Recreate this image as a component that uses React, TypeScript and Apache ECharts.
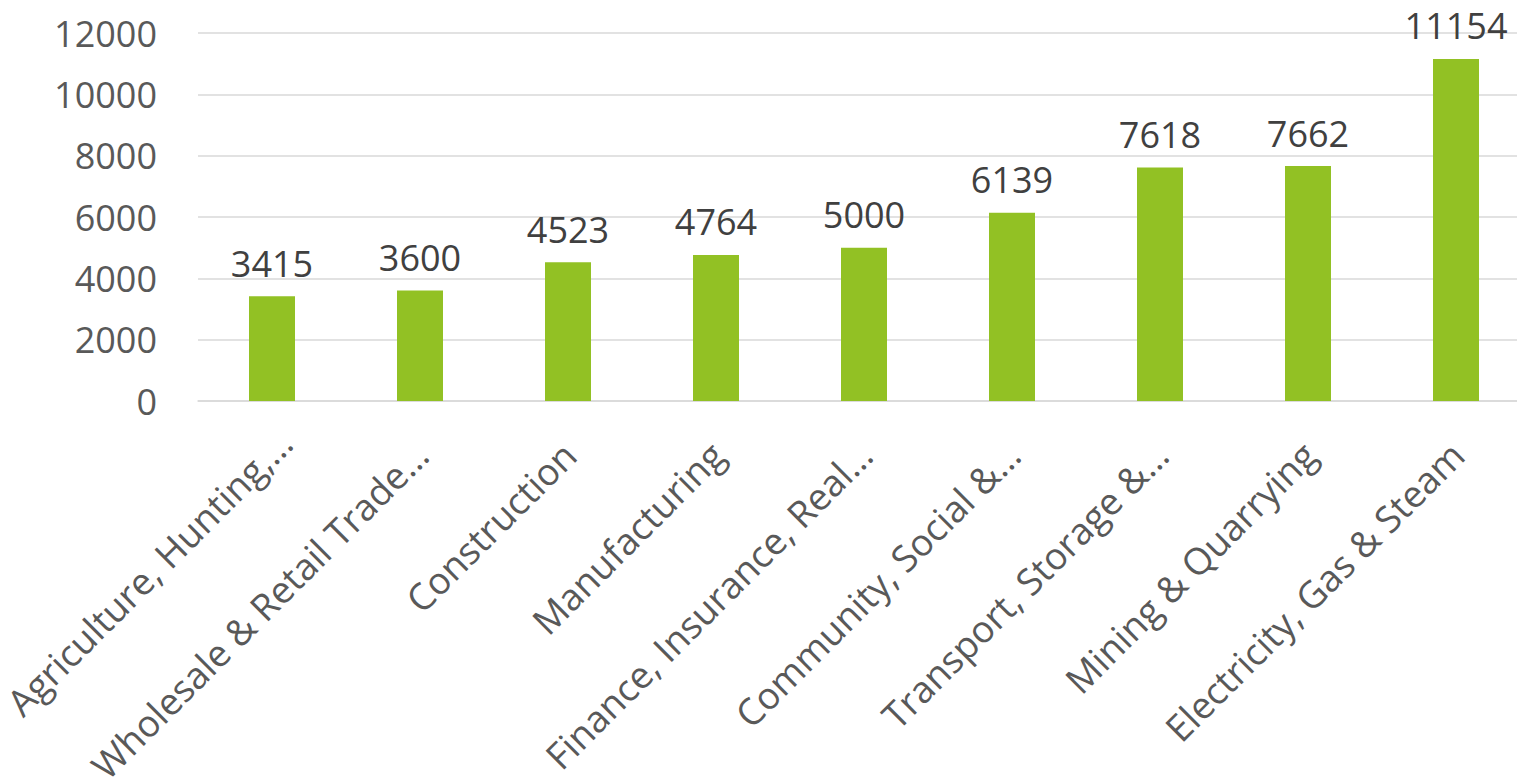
import React, { useEffect, useRef } from "react";
import * as echarts from "echarts";

const categories = [
  "Agriculture, Hunting,…",
  "Wholesale & Retail Trade…",
  "Construction",
  "Manufacturing",
  "Finance, Insurance, Real…",
  "Community, Social &…",
  "Transport, Storage &…",
  "Mining & Quarrying",
  "Electricity, Gas & Steam",
];
const values = [3415, 3600, 4523, 4764, 5000, 6139, 7618, 7662, 11154];

const FONT = "'Open Sans', 'Noto Sans', sans-serif";

export default function App() {
  const ref = useRef<HTMLDivElement>(null);
  useEffect(() => {
    if (!ref.current) return;
    const chart = echarts.init(ref.current, null, { renderer: "svg" });
    const catStyle = { fontSize: 37, fontFamily: FONT, color: "#595959" };
    chart.setOption({
      animation: false,
      backgroundColor: "#ffffff",
      grid: {
        left: 198,
        top: 33,
        width: 1332,
        height: 368,
        containLabel: false,
        outerBoundsMode: "none",
      },
      xAxis: {
        type: "category",
        data: categories,
        axisLine: { show: true, lineStyle: { color: "#D9D9D9", width: 1.5 } },
        axisTick: { show: false },
        axisLabel: {
          interval: 0,
          rotate: 45,
          margin: 22,
          verticalAlign: "top",
          ...catStyle,
          formatter: (v: string, i: number) => (i === 0 ? `{a|${v}}` : `{b|${v}}`),
          rich: {
            a: { ...catStyle, padding: [0, 0, 0, 0] },
            b: { ...catStyle, padding: [0, 17, 0, 0] },
          },
        },
      },
      yAxis: {
        type: "value",
        min: 0,
        max: 12000,
        interval: 2000,
        axisLine: { show: false },
        axisTick: { show: false },
        splitLine: { lineStyle: { color: "#D9D9D9", width: 1.5 } },
        axisLabel: {
          margin: 41,
          fontSize: 36,
          fontFamily: FONT,
          color: "#595959",
          formatter: (v: number) => String(v),
        },
      },
      series: [
        {
          type: "bar",
          data: values,
          barWidth: 46,
          itemStyle: { color: "#92C124" },
          label: {
            show: true,
            position: "top",
            distance: 15,
            fontSize: 36,
            fontFamily: FONT,
            color: "#404040",
          },
        },
      ],
    });
    return () => chart.dispose();
  }, []);
  return (
    <div
      ref={ref}
      style={{ position: "absolute", left: 0, top: 0, width: 1517, height: 780, overflow: "hidden" }}
    />
  );
}
